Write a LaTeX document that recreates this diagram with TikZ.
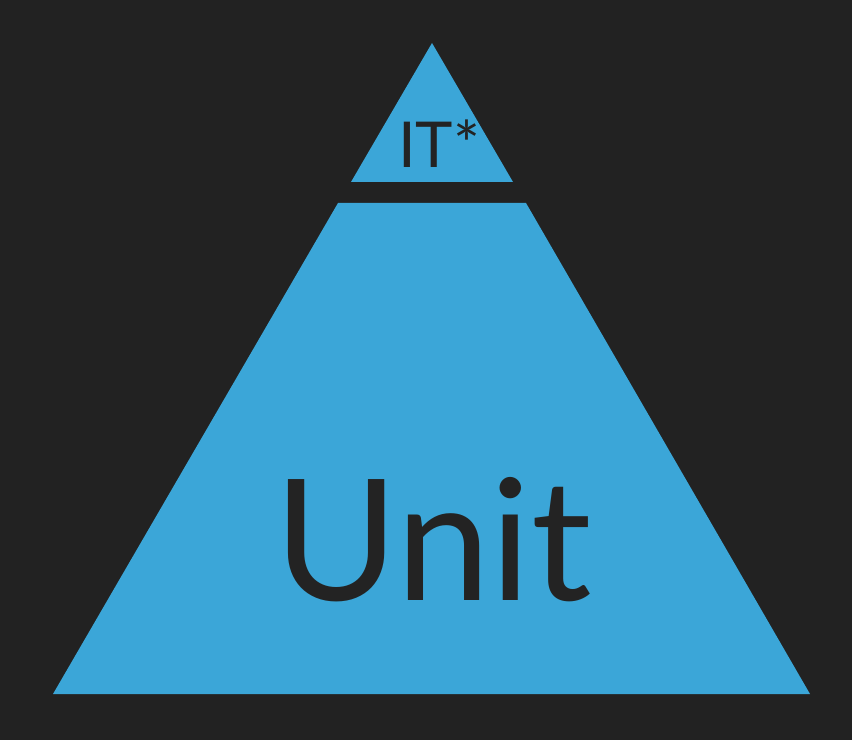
\documentclass[tikz,border=0pt]{standalone}
\usepackage{fontspec}
\setmainfont{Lato}
\usepackage{xcolor}
\usetikzlibrary{positioning}
\definecolor{bgdark}{HTML}{222222}
\definecolor{pyrblue}{HTML}{3BA6D8}
\definecolor{txtdark}{HTML}{232323}

\begin{document}
\begin{tikzpicture}[x=0.01cm, y=-0.01cm]
% Background
\fill[bgdark] (0,0) rectangle (852,740);
\useasboundingbox (0,0) rectangle (852,740);

% Pyramid layers
\fill[pyrblue] (432,43) -- (513,182) -- (351,182) -- cycle;
\fill[pyrblue] (338,203) -- (526,203) -- (810,694) -- (53,694) -- cycle;

% Labels
\node[text=txtdark, inner sep=0pt, anchor=base, font=\fontsize{18}{20}\selectfont] (topl) at (439,168) {IT*};
\node[text=txtdark, inner sep=0pt, anchor=base, font=\fontsize{48}{56}\selectfont] (unitl) at (433,600) {Unit};
\end{tikzpicture}
\end{document}
